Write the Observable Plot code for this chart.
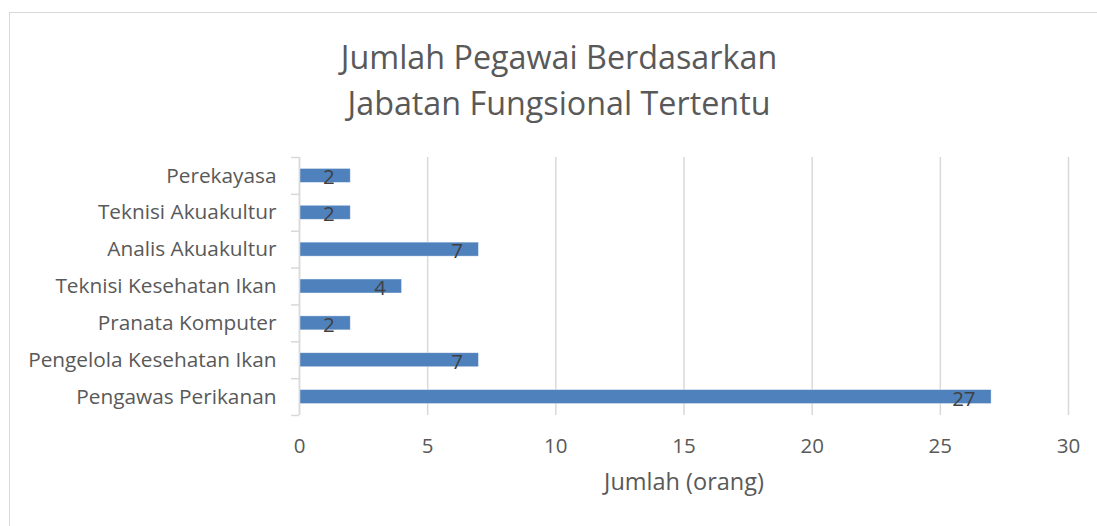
<!DOCTYPE html>
<html>
<head>
<meta charset="utf-8">
<script src="https://cdn.jsdelivr.net/npm/d3@7"></script>
<script src="https://cdn.jsdelivr.net/npm/@observablehq/plot@0.6"></script>
<style>
  html, body { margin: 0; padding: 0; background: #fff; }
  #wrap { position: relative; width: 1097px; height: 526px; overflow: hidden; font-family: "Open Sans", sans-serif; }
  #frame { position: absolute; left: 9px; top: 12px; width: 1200px; height: 600px; border: 1.5px solid #d9d9d9; box-sizing: border-box; }
  #title { position: absolute; left: 0; top: 33px; width: 1118px; text-align: center; color: #595959; font-size: 32.3px; line-height: 46px; }
  #chart { position: absolute; left: 0; top: 0; }
</style>
</head>
<body>
<div id="wrap">
  <div id="frame"></div>
  <div id="title">Jumlah Pegawai Berdasarkan<br>Jabatan Fungsional Tertentu</div>
  <div id="chart"></div>
</div>
<script>
const categories = ["Perekayasa", "Teknisi Akuakultur", "Analis Akuakultur", "Teknisi Kesehatan Ikan", "Pranata Komputer", "Pengelola Kesehatan Ikan", "Pengawas Perikanan"];
const values = [2, 2, 7, 4, 2, 7, 27];
const xTicks = [0, 5, 10, 15, 20, 25, 30];
const xLabel = "Jumlah (orang)";

const data = categories.map((c, i) => ({category: c, value: values[i]}));
const gray = "#d9d9d9";
const textGray = "#595959";
const bandHalf = (415 - 157) / categories.length / 2;

const chart = Plot.plot({
  width: 1097,
  height: 526,
  marginLeft: 299,
  marginRight: 29,
  marginTop: 157,
  marginBottom: 111,
  style: {fontFamily: "Open Sans, sans-serif", background: "transparent", overflow: "visible"},
  x: {domain: [0, 30], ticks: xTicks},
  y: {domain: categories, paddingInner: 0.62, paddingOuter: 0.31, round: false},
  marks: [
    Plot.gridX(xTicks, {stroke: gray, strokeOpacity: 1, strokeWidth: 1.5}),
    Plot.axisX({ticks: xTicks, tickSize: 0, tickPadding: 23, fontSize: 20.5, color: textGray, label: null}),
    Plot.text([xLabel], {frameAnchor: "bottom", dy: 74, fontSize: 23.5, fill: textGray, text: d => d}),
    Plot.barX(data, {x: "value", y: "category", fill: "#4f81bd", stroke: "#ffffff", strokeOpacity: 0.5, strokeWidth: 0.8}),
    Plot.text(data, {x: "value", y: "category", text: d => String(d.value), textAnchor: "end", dx: -16, dy: 2, fontSize: 20.5, fill: "#404040"}),
    Plot.ruleX([0], {stroke: gray, strokeWidth: 1.5}),
    Plot.axisY({tickSize: 0, tickPadding: 23, fontSize: 20.8, color: textGray, label: null}),
    Plot.axisY({tickSize: 8, text: null, dy: -bandHalf, stroke: gray, strokeWidth: 1.5, label: null}),
    Plot.axisY({ticks: [categories[categories.length - 1]], tickSize: 8, text: null, dy: bandHalf, stroke: gray, strokeWidth: 1.5, label: null})
  ]
});
document.getElementById("chart").appendChild(chart);
</script>
</body>
</html>
